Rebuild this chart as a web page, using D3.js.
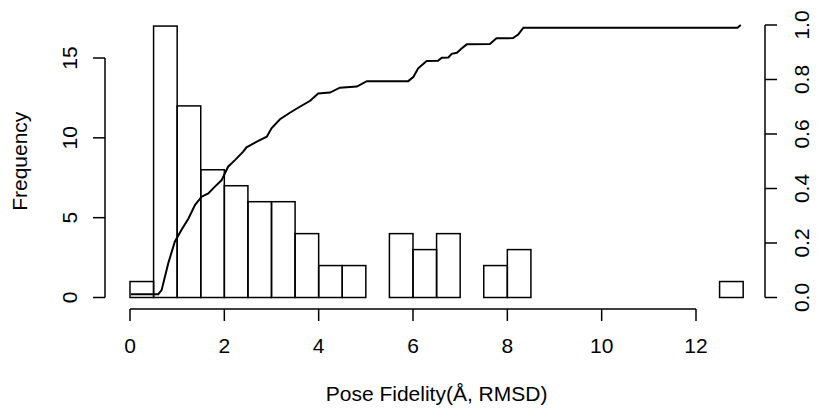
<!DOCTYPE html>
<html>
<head>
<style>
  body { margin: 0; background: #fff; }
  svg text { font-family: "Liberation Sans", Arial, Helvetica, sans-serif; fill: #000; }
</style>
</head>
<body>
<svg id="chart"></svg>
<script src="https://cdn.jsdelivr.net/npm/d3@7/dist/d3.min.js"></script>
<script>
// histogram: bins of 0.5 A from 0 to 13
const binStarts = [0, 0.5, 1, 1.5, 2, 2.5, 3, 3.5, 4, 4.5, 5, 5.5, 6, 6.5, 7, 7.5, 8, 8.5, 9, 9.5, 10, 10.5, 11, 11.5, 12, 12.5];
const counts    = [1, 17, 12, 8, 7, 6, 6, 4, 2, 2, 0, 4, 3, 4, 0, 2, 3, 0, 0, 0, 0, 0, 0, 0, 0, 1];
const binWidth = 0.5;

// cumulative curve
const cdfX = [0.02, 0.6, 0.67, 0.81, 0.95, 1.09, 1.24, 1.38, 1.52, 1.66, 1.80, 1.94, 2.08, 2.23, 2.40, 2.47, 2.69, 2.90, 3.00, 3.18, 3.39, 3.60, 3.82, 3.99, 4.24, 4.45, 4.81, 5.02, 5.90, 6.01, 6.11, 6.29, 6.53, 6.61, 6.75, 6.82, 6.93, 7.03, 7.14, 7.63, 7.77, 8.12, 8.23, 8.34, 12.88, 12.95];
const cdfY = [0.012, 0.012, 0.027, 0.125, 0.205, 0.248, 0.29, 0.34, 0.37, 0.382, 0.407, 0.43, 0.48, 0.505, 0.535, 0.551, 0.572, 0.59, 0.621, 0.654, 0.678, 0.70, 0.722, 0.749, 0.752, 0.770, 0.774, 0.794, 0.794, 0.81, 0.841, 0.868, 0.869, 0.88, 0.881, 0.894, 0.898, 0.914, 0.929, 0.93, 0.951, 0.952, 0.965, 0.99, 0.99, 1.0];

const xTicks = [0, 2, 4, 6, 8, 10, 12];
const yTicks = [0, 5, 10, 15];
const y2Ticks = [0, 0.2, 0.4, 0.6, 0.8, 1.0];

const width = 818, height = 413;
const svg = d3.select('#chart').attr('width', width).attr('height', height);

const x = d3.scaleLinear().domain([0, 12]).range([130, 696]);
const y = d3.scaleLinear().domain([0, 15]).range([297.5, 58]);
const y2 = d3.scaleLinear().domain([0, 1]).range([297.5, 25]);

const fontSize = 21;
const tickLen = 12;
const lineH = 24;   // one margin line

// bars
svg.append('g').selectAll('rect')
  .data(counts)
  .enter().append('rect')
  .attr('x', (d, i) => x(binStarts[i]))
  .attr('width', (d, i) => x(binStarts[i] + binWidth) - x(binStarts[i]))
  .attr('y', d => y(d))
  .attr('height', d => y(0) - y(d))
  .attr('fill', 'none')
  .attr('stroke', '#000')
  .attr('stroke-width', 1.5);

// cumulative line
const pts = cdfX.map((v, i) => [v, cdfY[i]]);
svg.append('path')
  .datum(pts)
  .attr('fill', 'none')
  .attr('stroke', '#000')
  .attr('stroke-width', 2)
  .attr('d', d3.line().x(d => x(d[0])).y(d => y2(d[1])));

// bottom axis
const axisY = 309;
const gx = svg.append('g');
gx.append('line')
  .attr('x1', x(xTicks[0])).attr('x2', x(xTicks[xTicks.length - 1]))
  .attr('y1', axisY).attr('y2', axisY)
  .attr('stroke', '#000').attr('stroke-width', 1.5);
gx.selectAll('.tk').data(xTicks).enter().append('line')
  .attr('x1', d => x(d)).attr('x2', d => x(d))
  .attr('y1', axisY).attr('y2', axisY + tickLen)
  .attr('stroke', '#000').attr('stroke-width', 1.5);
gx.selectAll('text').data(xTicks).enter().append('text')
  .attr('x', d => x(d)).attr('y', axisY + 1.5 * lineH)
  .attr('text-anchor', 'middle').attr('dominant-baseline', 'central')
  .attr('font-size', fontSize)
  .text(d => d);

// left axis
const axisX = 105;
const gy = svg.append('g');
gy.append('line')
  .attr('x1', axisX).attr('x2', axisX)
  .attr('y1', y(0)).attr('y2', y(15))
  .attr('stroke', '#000').attr('stroke-width', 1.5);
gy.selectAll('.tk').data(yTicks).enter().append('line')
  .attr('x1', axisX - tickLen).attr('x2', axisX)
  .attr('y1', d => y(d)).attr('y2', d => y(d))
  .attr('stroke', '#000').attr('stroke-width', 1.5);
gy.selectAll('text').data(yTicks).enter().append('text')
  .attr('transform', d => `translate(${axisX - 1.5 * lineH},${y(d)}) rotate(-90)`)
  .attr('text-anchor', 'middle').attr('dominant-baseline', 'central')
  .attr('font-size', fontSize)
  .text(d => d);

// right axis
const axis2X = 765;
const gy2 = svg.append('g');
gy2.append('line')
  .attr('x1', axis2X).attr('x2', axis2X)
  .attr('y1', y2(0)).attr('y2', y2(1))
  .attr('stroke', '#000').attr('stroke-width', 1.5);
gy2.selectAll('.tk').data(y2Ticks).enter().append('line')
  .attr('x1', axis2X).attr('x2', axis2X + tickLen)
  .attr('y1', d => y2(d)).attr('y2', d => y2(d))
  .attr('stroke', '#000').attr('stroke-width', 1.5);
gy2.selectAll('text').data(y2Ticks).enter().append('text')
  .attr('transform', d => `translate(${axis2X + 1.5 * lineH},${y2(d)}) rotate(-90)`)
  .attr('text-anchor', 'middle').attr('dominant-baseline', 'central')
  .attr('font-size', fontSize)
  .text(d => d3.format('.1f')(d));

// axis titles
svg.append('text')
  .attr('x', (x(0) + x(13)) / 2).attr('y', axisY + 3.5 * lineH)
  .attr('text-anchor', 'middle').attr('dominant-baseline', 'central')
  .attr('font-size', fontSize)
  .text('Pose Fidelity(Å, RMSD)');

svg.append('text')
  .attr('transform', `translate(19,${(y(0) + 25) / 2}) rotate(-90)`)
  .attr('text-anchor', 'middle').attr('dominant-baseline', 'central')
  .attr('font-size', fontSize)
  .text('Frequency');
</script>
</body>
</html>
